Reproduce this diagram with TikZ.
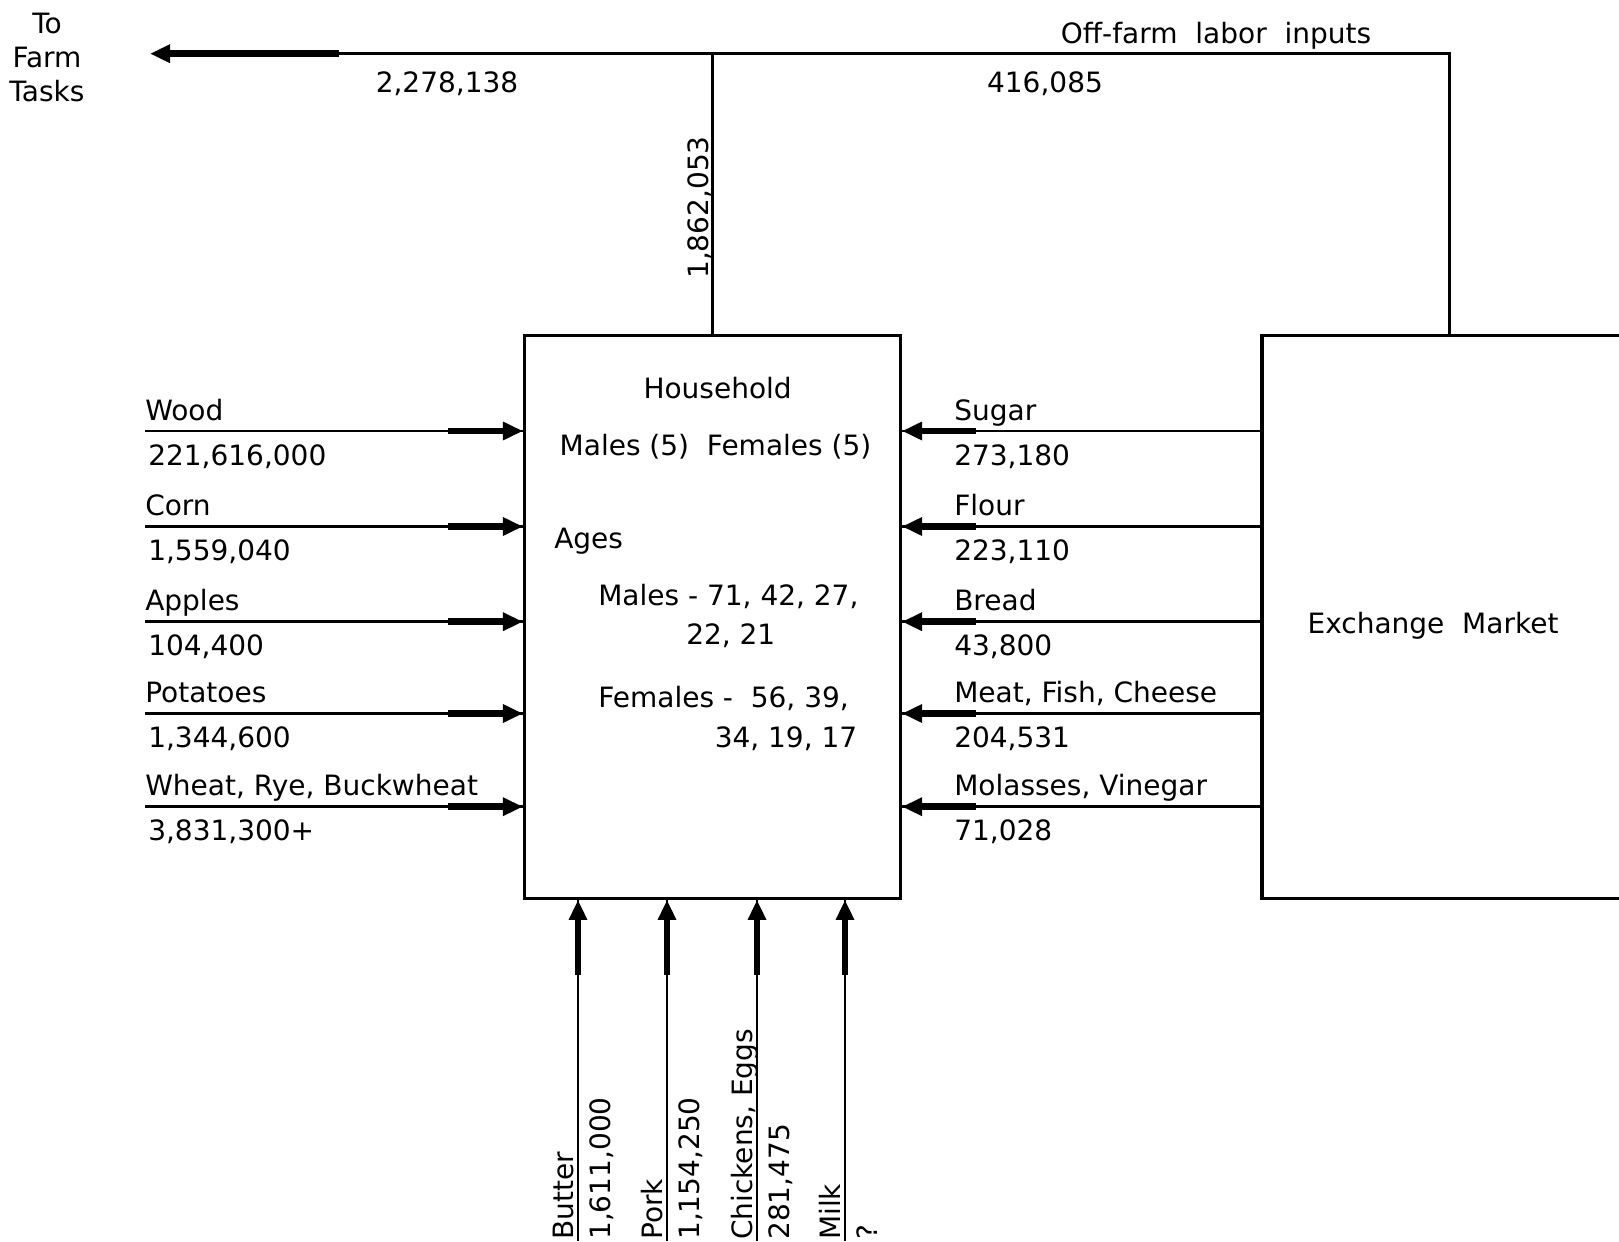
\documentclass[tikz,border=0pt]{standalone}
\usepackage{fontspec}
\setmainfont{DejaVu Sans}
\usetikzlibrary{arrows.meta}
\begin{document}
\begin{tikzpicture}[x=0.75pt,y=-0.75pt,
  lbl/.style={inner sep=0pt, font=\fontsize{21pt}{25.5pt}\selectfont},
  conn/.style={line width=2.2pt},
  flow/.style={line width=5pt, -{Triangle[length=15pt,width=13pt]}},
  boxst/.style={draw, line width=2.3pt, inner sep=0pt}]
\useasboundingbox[fill=white] (0,0) rectangle (1619,1241);

% boxes
\node[boxst, minimum width=282pt, minimum height=422pt] (hh) at (712.5,617) {};
\node[boxst, minimum width=313.5pt, minimum height=422pt] (ex) at (1471,617) {};
\node[lbl, anchor=base] (extxt) at (1433,633) {Exchange\ \ Market};

% household text
\node[lbl, anchor=base] (hh1) at (717.6,398) {Household};
\node[lbl, anchor=base] (hh2) at (715.5,455) {Males (5)\ \ Females (5)};
\node[lbl, anchor=base west] (hh3) at (554,548) {Ages};
\node[lbl, anchor=base west] (hh4) at (598,605) {Males - 71, 42, 27,};
\node[lbl, anchor=base west] (hh5) at (686,644) {22, 21};
\node[lbl, anchor=base west] (hh6) at (598,707) {Females -\ \ 56, 39,};
\node[lbl, anchor=base west] (hh7) at (714.5,747) {34, 19, 17};

% top connections
\coordinate (tipL) at (150,53.7);
\coordinate (thL) at (339,53.7);
\path (ex.north west) ++(189,0) coordinate (exTop);
\draw[conn] (exTop) |- (thL);
\draw[conn] (hh.north) -- (hh.north |- tipL);
\draw[flow] (thL) -- (tipL);
\node[lbl, align=center] (farm) at (47,57) {To\\Farm\\Tasks};
\node[lbl, anchor=base] (v1) at (447,93) {2,278,138};
\node[lbl, anchor=base] (v2) at (1045,93) {416,085};
\node[lbl, anchor=base] (off) at (1216,44) {Off-farm\ \ labor\ \ inputs};
\node[lbl, rotate=90, anchor=base west] (v3) at (708,279) {1,862,053};

% left inputs
\foreach \y/\n/\v [count=\i] in {431/Wood/{221,616,000},526.5/Corn/{1,559,040},621.7/Apples/{104,400},713.5/Potatoes/{1,344,600},806.7/{Wheat, Rye, Buckwheat}/{3,831,300+}}{
  \coordinate (L\i) at (145,\y);
  \coordinate (Lt\i) at (448,\y);
  \draw[conn] (L\i) -- (L\i -| hh.west);
  \draw[flow] (Lt\i) -- (Lt\i -| hh.west);
  \node[lbl, anchor=base west] (Ln\i) at (145,{\y-11}) {\n};
  \node[lbl, anchor=base west] (Lv\i) at (148,{\y+34}) {\v};
}

% right inputs
\foreach \y/\n/\v [count=\i] in {431/Sugar/{273,180},526.5/Flour/{223,110},621.7/Bread/{43,800},713.5/{Meat, Fish, Cheese}/{204,531},806.7/{Molasses, Vinegar}/{71,028}}{
  \coordinate (Rt\i) at (976,\y);
  \draw[conn] (ex.west |- Rt\i) -- (hh.east |- Rt\i);
  \draw[flow] (Rt\i) -- (hh.east |- Rt\i);
  \node[lbl, anchor=base west] (Rn\i) at (954,{\y-11}) {\n};
  \node[lbl, anchor=base west] (Rv\i) at (954,{\y+34}) {\v};
}

% bottom inputs
\foreach \x/\n/\v [count=\i] in {578/Butter/{1,611,000},667/Pork/{1,154,250},757/{Chickens, Eggs}/{281,475},845/Milk/?}{
  \coordinate (B\i) at (\x,1241);
  \coordinate (Bt\i) at (\x,975);
  \draw[conn] (B\i) -- (hh.south -| B\i);
  \draw[flow] (Bt\i) -- (hh.south -| Bt\i);
  \node[lbl, rotate=90, anchor=base west] (Bn\i) at ({\x-5},1240) {\n};
  \node[lbl, rotate=90, anchor=base west] (Bv\i) at ({\x+32},1240) {\v};
}
\end{tikzpicture}
\end{document}
